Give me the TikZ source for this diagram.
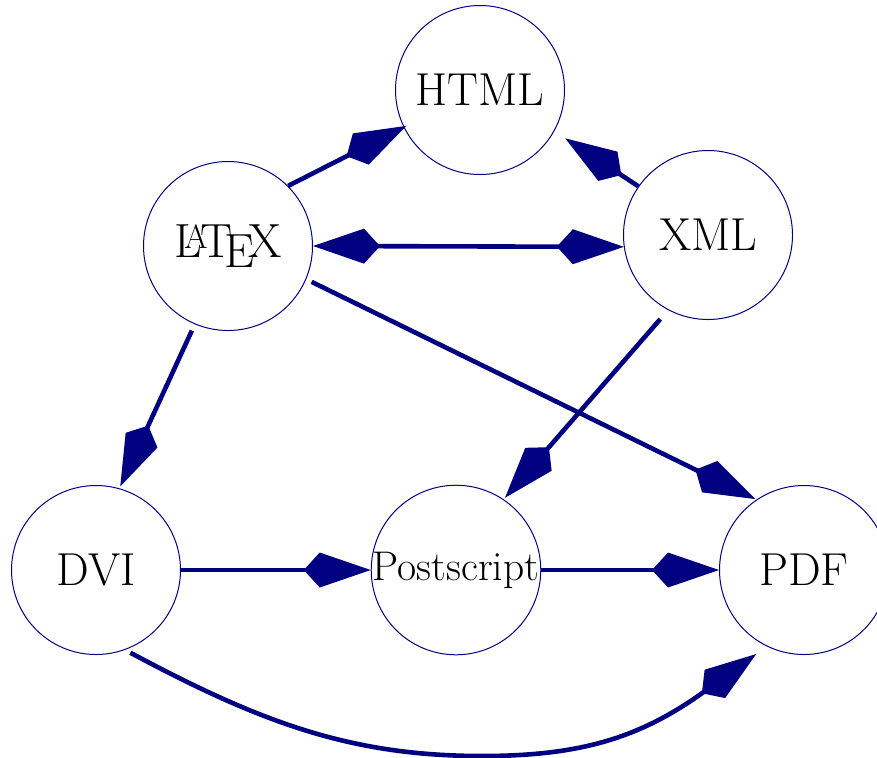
\documentclass[tikz,border=0pt]{standalone}
\usetikzlibrary{arrows.meta}
\definecolor{linkblue}{RGB}{0,0,128}

\begin{document}
\begin{tikzpicture}[x=0.5pt, y=-0.5pt,
    kitetip/.tip={Kite[length=33.5pt, width=17.5pt, inset=8pt, fill=linkblue]},
    format/.style={circle, draw=linkblue, line width=0.5pt, minimum size=84.5pt, inner sep=0pt, font=\fontsize{23.1}{25}\selectfont},
    link/.style={draw=linkblue, line width=2.3pt, -kitetip},
    both/.style={link, kitetip-kitetip}
  ]
    \useasboundingbox (0, 0) rectangle (877, 757);

    % The formats
    \node[format] (html) at (480, 90) {HTML};
    \node[format, font=\fontsize{24}{26}\selectfont] (latex) at (228, 246) {\LaTeX};
    \node[format] (xml) at (708, 235) {XML};
    \node[format] (dvi) at (96, 570) {DVI};
    \node[format, font=\huge] (ps) at (456, 570) {Postscript};
    \node[format] (pdf) at (804, 570) {PDF};

    % Conversions
    \draw[link, shorten >=-1.5pt] (latex.45) -- (html.206);
    \draw[link, shorten >=6.5pt] (xml.145) -- (html.-29);
    \draw[both] (latex.0) -- (xml.188);
    \draw[link, shorten <=3pt, shorten >=0.5pt] (latex.-23) -- (pdf.124);
    \draw[link, shorten <=3.5pt, shorten >=1pt] (latex.-113) -- (dvi.74);
    \draw[link, shorten <=6pt, shorten >=1pt] (xml.242) -- (ps.56);
    \draw[link] (dvi.0) -- (ps.180);
    \draw[link] (ps.0) -- (pdf.180);

    % The long way round, under everything
    \coordinate (low) at (482, 756);
    \draw[link, shorten <=3pt, shorten >=6.5pt] (dvi.-70) .. controls (260, 722) and (350, 756) .. (low)
        .. controls (580, 756) and (640, 738) .. (pdf.244);
\end{tikzpicture}
\end{document}
